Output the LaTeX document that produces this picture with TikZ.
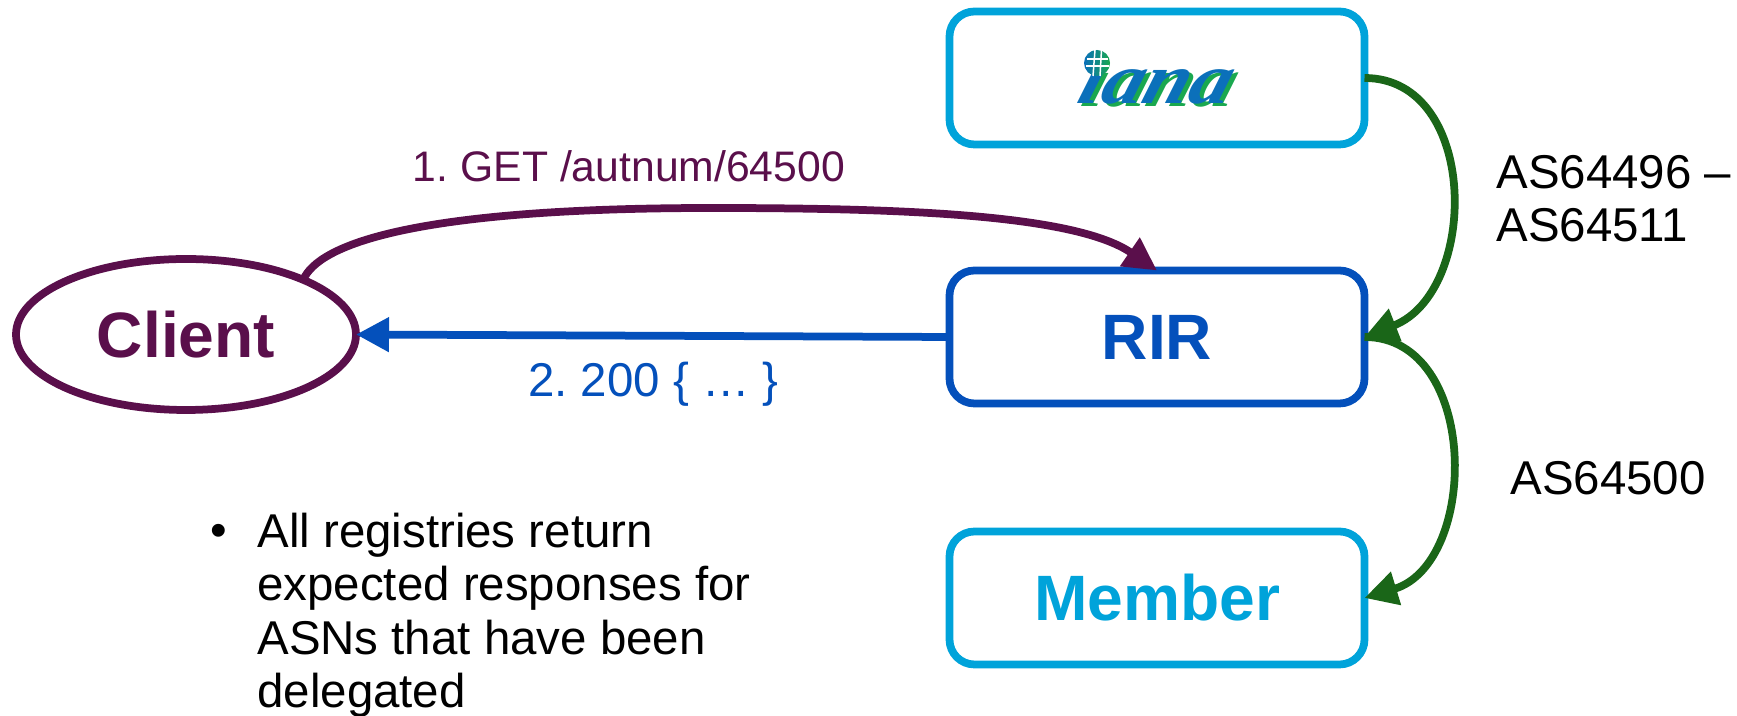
\documentclass[tikz,border=0pt]{standalone}
\usepackage{fontspec}
\setmainfont{Liberation Sans}
\newfontfamily\logofont{Liberation Serif}
\usetikzlibrary{arrows.meta, shapes.geometric}
\definecolor{clientpurple}{HTML}{5A0F4B}
\definecolor{rirblue}{HTML}{0450BB}
\definecolor{boxcyan}{HTML}{00A3DA}
\definecolor{flowgreen}{HTML}{1A6618}
\definecolor{ianablue}{HTML}{0B70BA}
\definecolor{ianagreen}{HTML}{1AA84F}
\newcommand{\bigfont}{\fontsize{36.5}{43}\selectfont\bfseries}
\newcommand{\txtfont}{\frenchspacing\fontsize{27}{30.3}\selectfont}
\newcommand{\logotext}{\logofont\fontsize{41}{41}\selectfont\bfseries\itshape}
\tikzset{
  regbox/.style={draw, rounded corners=0.5cm, line width=0.155cm, outer sep=0pt, minimum width=8.3cm, minimum height=2.66cm, inner sep=0pt, font=\bigfont},
  flow/.style={line width=0.155cm, -{Triangle[length=0.66cm, width=0.66cm]}},
  txt/.style={inner sep=0pt, font=\txtfont, align=left},
  logo/.style={inner sep=0pt, xslant=0.3, transform shape, font=\logotext},
}
\begin{document}
\begin{tikzpicture}
\useasboundingbox (0,0) rectangle (34.74,14.32);
\node[regbox, draw=boxcyan] (iana) at (23.14,12.76) {};
\node[regbox, draw=rirblue, text=rirblue] (rir) at (23.14,7.58) {RIR};
\node[regbox, draw=boxcyan, text=boxcyan] (member) at (23.14,2.36) {Member};
\node[ellipse, draw=clientpurple, text=clientpurple, line width=0.155cm, outer sep=0pt, minimum width=6.8cm, minimum height=3.02cm, inner sep=0pt, font=\bigfont] (client) at (3.72,7.63) {Client};

\node[logo, text=ianagreen] (ianashadow) at (23.2,12.52) {\scalebox{1.15}[1]{ıana}};
\node[logo, text=ianablue] (ianalogo) at (23.12,12.58) {\scalebox{1.15}[1]{ıana}};
\shade[left color=ianablue, right color=ianagreen] (21.94,13.06) circle (0.26);
\draw[white, line width=0.03cm] (21.74,13.14) -- (22.16,13.14);
\draw[white, line width=0.03cm] (21.72,13.0) -- (22.18,13.0);
\draw[white, line width=0.03cm] (21.9,13.32) -- (21.86,12.8);
\draw[white, line width=0.03cm] (22.03,13.32) -- (22.0,12.8);

\coordinate (gettop) at (14.24,10.16);
\draw[flow, clientpurple] (client.25) .. controls +(0.3,0.7) and +(-6,0) .. (gettop) .. controls +(4,0) and +(-1.6,1.1) .. (rir.north);
\draw[flow, rirblue] (rir.west) -- (client.east);
\draw[flow, flowgreen] (iana.east) .. controls +(2.3,0) and +(2.3,0.9) .. (rir.east);
\draw[flow, flowgreen] (rir.east) .. controls +(2.3,0) and +(2.3,0.7) .. (member.east);

\node[txt, text=clientpurple, font=\frenchspacing\fontsize{24.3}{30}\selectfont] (getlabel) at (12.58,11.0) {1. GET /autnum/64500};
\node[txt, text=rirblue] (resplabel) at (13.07,6.63) {2. 200 \{ … \}};
\node[txt, anchor=west] (rangelabel) at (29.92,10.34) {AS64496 –\\AS64511};
\node[txt] (asnlabel) at (32.16,4.76) {AS64500};
\node[txt, anchor=north west] (notetext) at (5.14,4.06) {All registries return\\expected responses for\\ASNs that have been\\delegated};
\node[txt, anchor=base] (notebullet) at (4.38,3.38) {•};
\end{tikzpicture}
\end{document}
